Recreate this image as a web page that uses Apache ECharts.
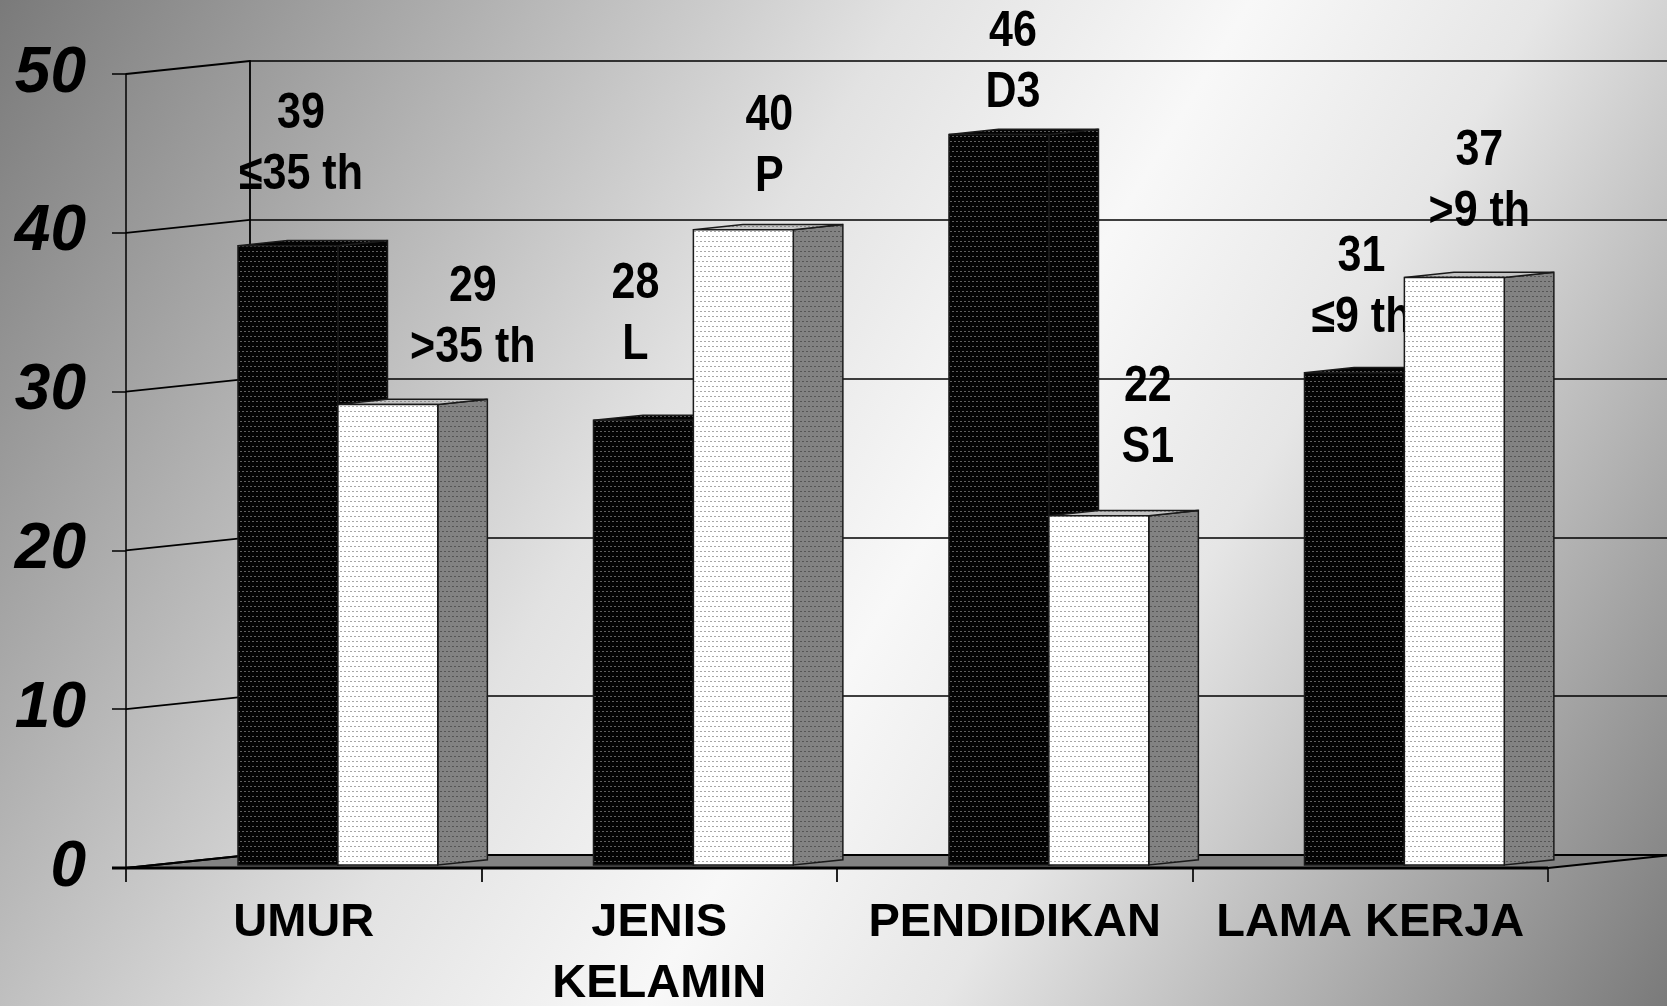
<!DOCTYPE html>
<html>
<head>
<meta charset="utf-8">
<title>Karakteristik Responden</title>
<script src="https://cdn.jsdelivr.net/npm/echarts@6/dist/echarts.min.js"></script>
<style>
  html, body { margin: 0; padding: 0; }
  #chart { width: 1667px; height: 1006px; }
</style>
</head>
<body>
<div id="chart"></div>
<script>
// ---- data ----
const categories = ['UMUR', 'JENIS\nKELAMIN', 'PENDIDIKAN', 'LAMA KERJA'];
const darkValues = [39, 28, 46, 31];
const lightValues = [29, 40, 22, 37];
const darkGroups = ['≤35 th', 'L', 'D3', '≤9 th'];
const lightGroups = ['>35 th', 'P', 'S1', '>9 th'];
const yTicks = [0, 10, 20, 30, 40, 50];

// ---- 3D layout ----
const FONT = "'Liberation Sans', Arial, sans-serif";
const DEPTH_X = 124, DEPTH_Y = -13;          // wall depth vector in pixels
const FACE_FRONT = 0.23, FACE_BACK = 0.63;   // bar depth as a fraction of the wall depth
const BAR_W = 0.281;                         // bar width as a fraction of the category band
const PAIR_SHIFT = -0.185;                   // left edge of the pair relative to band centre
const LINE_GAP = 61;                         // distance between the two label lines
// label placement per bar: [dx from front-face centre, height of lower line above bar top]
const darkLabelPos = [[13, 70], [-8, 75], [14, 41], [7, 54]];
const lightLabelPos = [[85, 56], [26, 52], [49, 67], [25, 65]];

// dotted fill tiles
function dotTile(bg, dot, accent) {
  const c = document.createElement('canvas');
  c.width = 12; c.height = 15;
  const g = c.getContext('2d');
  g.fillStyle = bg; g.fillRect(0, 0, 12, 15);
  [1, 6, 11].forEach((y, r) => {
    for (let x = (r % 2) * 2; x < 12; x += 4) {
      g.fillStyle = (x === 4 && r === 1) ? accent : dot;
      g.fillRect(x, y, 2, 1);
    }
  });
  return { image: c, repeat: 'repeat' };
}
const darkFill = dotTile('#030303', '#5e5e5e', '#d8d8d8');
const lightFill = dotTile('#ffffff', '#a8a8a8', '#333333');
const sideFill = dotTile('#828282', '#555555', '#3a3a3a');
const topFill = dotTile('#c4c4c4', '#8a8a8a', '#666666');

const textShadow = {
  textShadowColor: 'rgba(80,80,80,0.45)',
  textShadowOffsetX: 1.5,
  textShadowOffsetY: 1.5,
  textShadowBlur: 0
};

function barRenderer(slot, groups, labelPos, faces) {
  return function (params, api) {
    const idx = api.value(0);
    const val = api.value(1);
    const top = api.coord([idx, val]);
    const base = api.coord([idx, 0]);
    const bw = api.size([1, 0])[0];
    const w = bw * BAR_W;
    const x0 = top[0] + PAIR_SHIFT * bw + slot * w;
    const x1 = x0 + w;
    const yT = top[1] + FACE_FRONT * DEPTH_Y;
    const yB = base[1] + FACE_FRONT * DEPTH_Y;
    const dx = (FACE_BACK - FACE_FRONT) * DEPTH_X;
    const dy = (FACE_BACK - FACE_FRONT) * DEPTH_Y;
    const edge = { stroke: '#1a1a1a', lineWidth: 1.5, lineJoin: 'miter' };
    const pos = labelPos[idx];
    const lowerY = yT - pos[1];
    return {
      type: 'group',
      children: [
        {
          type: 'polygon',
          shape: { points: [[x1, yT], [x1 + dx, yT + dy], [x1 + dx, yB + dy], [x1, yB]] },
          style: Object.assign({ fill: faces.side }, edge)
        },
        {
          type: 'polygon',
          shape: { points: [[x0, yT], [x1, yT], [x1 + dx, yT + dy], [x0 + dx, yT + dy]] },
          style: Object.assign({ fill: faces.top }, edge)
        },
        {
          type: 'rect',
          shape: { x: x0, y: yT, width: w, height: yB - yT },
          style: Object.assign({ fill: faces.front }, edge)
        },
        {
          type: 'text',
          x: (x0 + x1) / 2 + pos[0],
          y: lowerY - LINE_GAP / 2,
          scaleY: 1.15,
          z2: 20,
          style: Object.assign({
            text: val + '\n' + groups[idx],
            fontFamily: FONT,
            fontWeight: 'bold',
            fontSize: 43,
            lineHeight: LINE_GAP / 1.15,
            fill: '#000',
            align: 'center',
            verticalAlign: 'middle'
          }, textShadow)
        }
      ]
    };
  };
}

const chart = echarts.init(document.getElementById('chart'));

chart.setOption({
  animation: false,
  backgroundColor: new echarts.graphic.LinearGradient(0, 0, 1, 1, [
    { offset: 0, color: '#7a7a7a' },
    { offset: 0.4, color: '#e2e2e2' },
    { offset: 0.55, color: '#f8f8f8' },
    { offset: 0.68, color: '#e6e6e6' },
    { offset: 1, color: '#7a7a7a' }
  ]),
  grid: [
    // front plane
    { left: 126, top: 74, width: 1422, height: 794, containLabel: false, outerBoundsMode: 'none' },
    // back wall
    { left: 126 + DEPTH_X, top: 74 + DEPTH_Y, width: 1422, height: 794, containLabel: false, outerBoundsMode: 'none' }
  ],
  xAxis: [
    {
      type: 'category',
      gridIndex: 0,
      data: categories,
      boundaryGap: true,
      axisLine: { show: false },
      axisTick: { show: true, length: 14, lineStyle: { color: '#222', width: 2 } },
      axisLabel: Object.assign({
        interval: 0,
        margin: 25,
        color: '#000',
        fontFamily: FONT,
        fontWeight: 'bold',
        fontSize: 47,
        lineHeight: 61
      }, textShadow),
      splitLine: { show: false }
    },
    {
      type: 'category',
      gridIndex: 1,
      data: categories,
      show: false
    }
  ],
  yAxis: [
    {
      type: 'value',
      gridIndex: 0,
      min: 0,
      max: 50,
      interval: 10,
      axisLine: { show: true, lineStyle: { color: '#000', width: 1.5 } },
      axisTick: { show: true, length: 14, lineStyle: { color: '#000', width: 1.5 } },
      axisLabel: Object.assign({
        margin: 40,
        color: '#000',
        fontFamily: FONT,
        fontWeight: 'bold',
        fontStyle: 'italic',
        fontSize: 64
      }, textShadow),
      splitLine: { show: false }
    },
    {
      type: 'value',
      gridIndex: 1,
      min: 0,
      max: 50,
      interval: 10,
      axisLine: { show: true, lineStyle: { color: '#000', width: 1.8 } },
      axisTick: { show: false },
      axisLabel: { show: false },
      splitLine: { show: true, lineStyle: { color: '#000', width: 1.5 } }
    }
  ],
  series: [
    {
      // floor of the plot area
      type: 'custom',
      xAxisIndex: 0,
      yAxisIndex: 0,
      silent: true,
      z: 1,
      data: [[0, 0]],
      renderItem: function (params, api) {
        const bw = api.size([1, 0])[0];
        const l = api.coord([0, 0]);
        const r = api.coord([categories.length - 1, 0]);
        const fl = [l[0] - bw / 2, l[1]];
        const fr = [r[0] + bw / 2, r[1]];
        return {
          type: 'group',
          children: [
            {
              type: 'polygon',
              shape: { points: [fl, fr, [fr[0] + DEPTH_X, fr[1] + DEPTH_Y], [fl[0] + DEPTH_X, fl[1] + DEPTH_Y]] },
              style: { fill: '#828282', stroke: '#000', lineWidth: 2 }
            },
            {
              type: 'line',
              shape: { x1: fl[0] - 14, y1: fl[1], x2: fr[0], y2: fr[1] },
              style: { stroke: '#000', lineWidth: 3 }
            }
          ]
        };
      }
    },
    {
      // side wall grid lines joining the front axis to the back wall
      type: 'custom',
      xAxisIndex: 0,
      yAxisIndex: 0,
      silent: true,
      z: 1,
      data: yTicks.map(v => [0, v]),
      renderItem: function (params, api) {
        const bw = api.size([1, 0])[0];
        const p = api.coord([0, api.value(1)]);
        const x = p[0] - bw / 2;
        return {
          type: 'line',
          shape: { x1: x, y1: p[1], x2: x + DEPTH_X, y2: p[1] + DEPTH_Y },
          style: { stroke: '#000', lineWidth: 1.8 }
        };
      }
    },
    {
      type: 'custom',
      name: 'dark',
      xAxisIndex: 0,
      yAxisIndex: 0,
      z: 3,
      data: darkValues.map((v, i) => [i, v]),
      encode: { x: 0, y: 1 },
      renderItem: barRenderer(0, darkGroups, darkLabelPos, { front: darkFill, top: darkFill, side: darkFill })
    },
    {
      type: 'custom',
      name: 'light',
      xAxisIndex: 0,
      yAxisIndex: 0,
      z: 4,
      data: lightValues.map((v, i) => [i, v]),
      encode: { x: 0, y: 1 },
      renderItem: barRenderer(1, lightGroups, lightLabelPos, { front: lightFill, top: topFill, side: sideFill })
    }
  ]
});
</script>
</body>
</html>
